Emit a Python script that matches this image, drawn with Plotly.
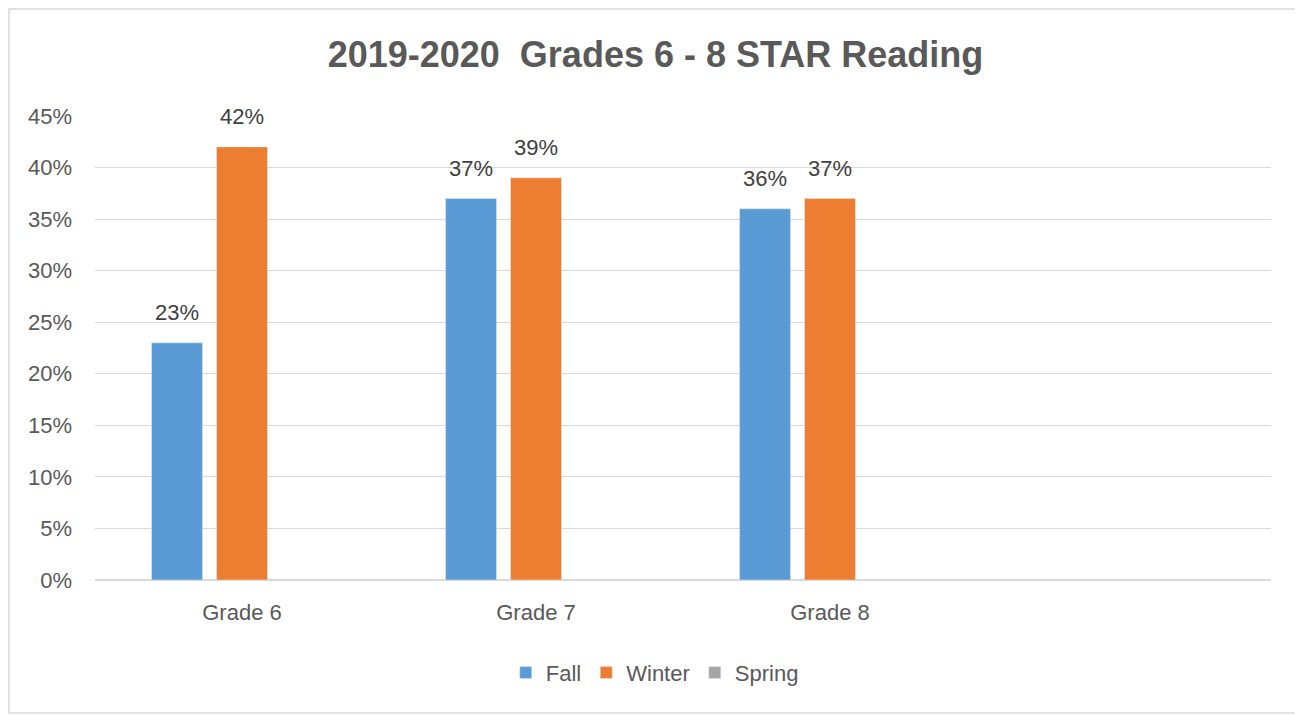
import plotly.graph_objects as go

categories = ["Grade 6", "Grade 7", "Grade 8", " "]
fall = [0.23, 0.37, 0.36, None]
winter = [0.42, 0.39, 0.37, None]
spring = [None, None, None, None]
tick_vals = [0, 0.05, 0.10, 0.15, 0.20, 0.25, 0.30, 0.35, 0.40, 0.45]
tick_text = ["0%", "5%", "10%", "15%", "20%", "25%", "30%", "35%", "40%", "45%"]

FONT = "Liberation Sans"
series = [("Fall", fall, "#5b9bd5"), ("Winter", winter, "#ed7d31"), ("Spring", spring, "#a5a5a5")]
fig = go.Figure()
for name, vals, col in series:
    fig.add_trace(go.Bar(
        x=categories, y=vals, name=name, marker_color=col,
        offsetgroup=name, textposition="none", hoverinfo="skip",
    ))
for name, vals, col in series:
    fig.add_trace(go.Scatter(
        x=categories, y=vals, mode="markers+text", offsetgroup=name,
        marker=dict(size=26, color="rgba(0,0,0,0)"),
        texttemplate="%{y:.0%}", textposition="top center", cliponaxis=False,
        textfont=dict(size=22, color="#404040", family=FONT),
        showlegend=False, hoverinfo="skip",
    ))

fig.update_layout(
    width=1295, height=707,
    margin=dict(l=87, r=32, t=108, b=135),
    paper_bgcolor="white", plot_bgcolor="white",
    barmode="group", scattermode="group", bargap=0.337, bargroupgap=0.215,
    title=dict(text="<b>2019-2020  Grades 6 - 8 STAR Reading</b>", x=0.5, xanchor="center",
               y=0.935, yanchor="middle",
               font=dict(size=36, color="#595959", family=FONT)),
    font=dict(family=FONT, color="#595959"),
    legend=dict(orientation="h", x=0.476, xanchor="center", y=-0.2, yanchor="middle",
                font=dict(size=22, color="#595959"), itemwidth=30),
    showlegend=True,
)
fig.update_xaxes(showgrid=False, tickfont=dict(size=22, color="#595959"), ticks="",
                 showline=False, ticklabelstandoff=17)
fig.update_yaxes(range=[0, 0.45], tickvals=tick_vals, ticktext=tick_text,
                 gridcolor="#d9d9d9", gridwidth=1, zeroline=True, zerolinecolor="#d9d9d9",
                 tickfont=dict(size=22, color="#595959"), ticks="", ticklabelstandoff=22)
fig.add_shape(type="rect", xref="paper", yref="paper",
              x0=-0.0731, x1=1.0238, y0=-0.2866, y1=1.2306,
              line=dict(color="#d9d9d9", width=1.5), layer="below")
fig.write_html("out.html")
